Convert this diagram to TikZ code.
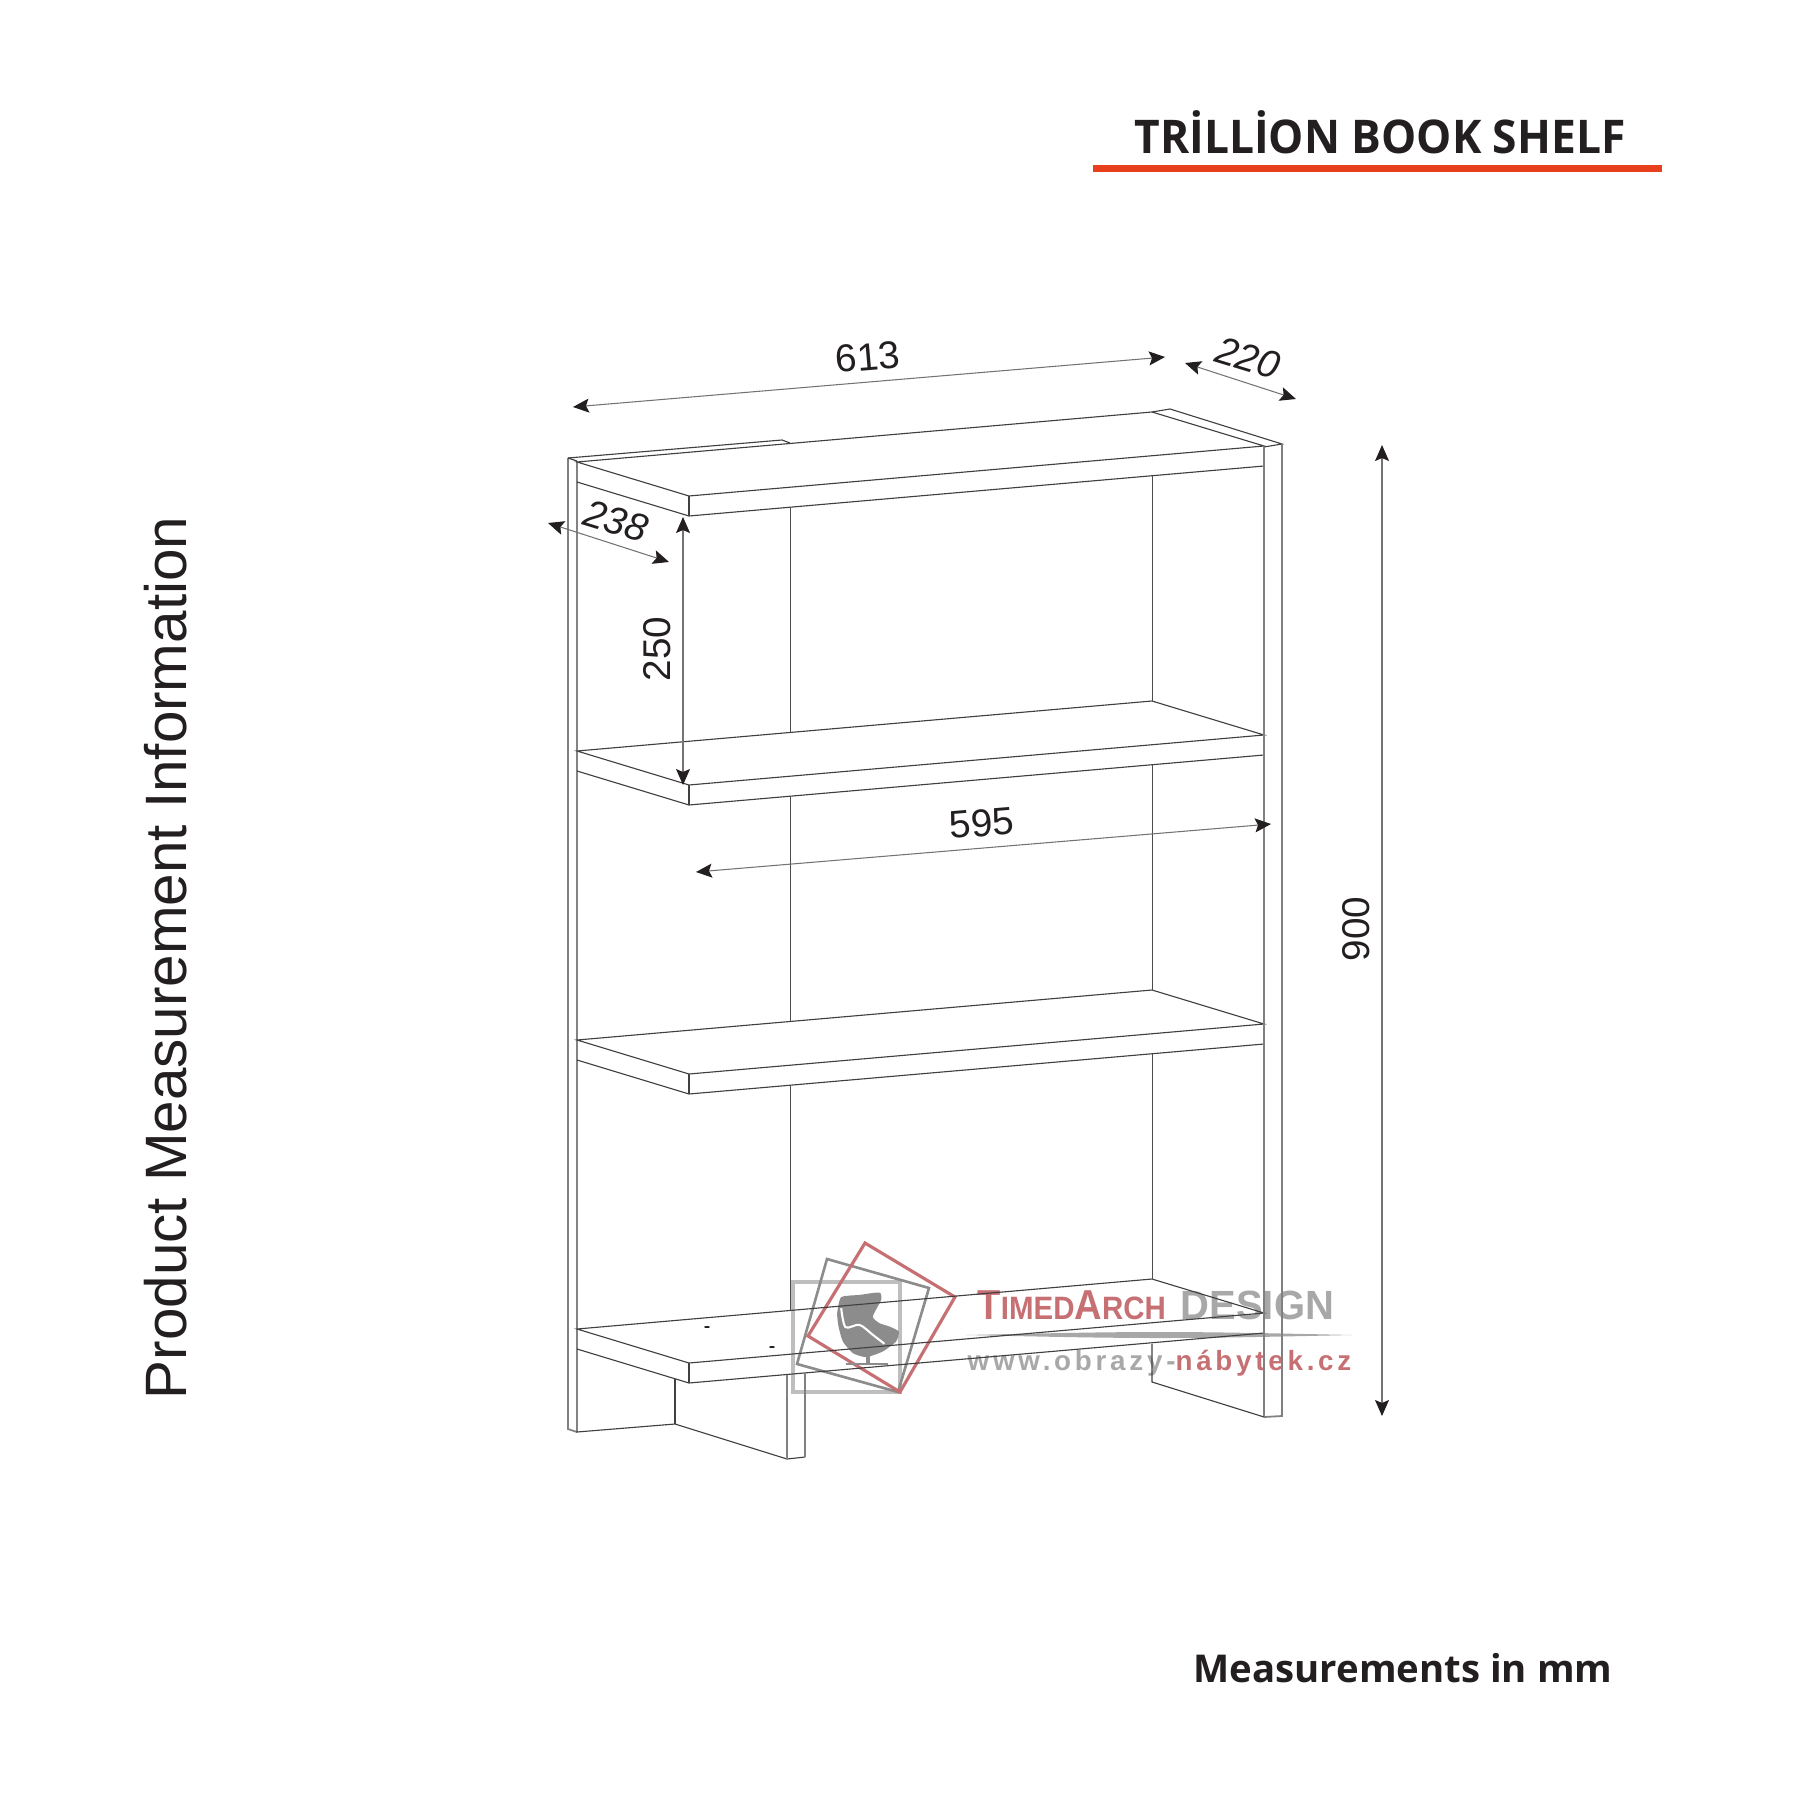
\documentclass[tikz,border=0pt]{standalone}
\usepackage{fontspec}
\setmainfont{Liberation Sans}
\newfontfamily\headfont{Open Sans}
\usetikzlibrary{arrows.meta}
\definecolor{inkdark}{RGB}{35,31,32}
\definecolor{rulered}{RGB}{232,64,28}
\definecolor{markred}{RGB}{198,112,116}
\definecolor{markgray}{RGB}{168,168,168}
\newcommand{\fs}[1]{\fontsize{#1}{#1}\selectfont}
\tikzset{%
    edge line/.style={draw=black!75,line width=0.32pt},
    back line/.style={draw=black!70,line width=0.28pt},
    post line/.style={draw=black!50,line width=0.5pt},
    dim line/.style={draw=black!55,line width=0.3pt,
        {Stealth[length=1.6mm,width=1.4mm,inset=0.3mm,inkdark]}-{Stealth[length=1.6mm,width=1.4mm,inset=0.3mm,inkdark]}},
    dim text/.style={inner sep=0,text=inkdark,font=\fs{11}},
    head text/.style={inner sep=0,text=inkdark,font=\headfont\bfseries\fs{13.2}}
}

\begin{document}
\begin{tikzpicture}[x=0.01cm,y=-0.01cm]
  \useasboundingbox (0,0) rectangle (1800,1800);

  % watermark
  \draw[markgray!75,line width=1pt] (793,1282) rectangle (900,1392);
  \draw[black!45,line width=0.75pt] (827,1259) -- (929,1288) -- (898,1392) -- (797,1364) -- cycle;
  \draw[markred,line width=0.9pt] (865,1243) -- (955,1297) -- (900,1392) -- (808,1336) -- cycle;
  \begin{scope}[shift={(540,1220)},x=0.00333cm,y=-0.00333cm]
    \fill[black!45] plot[smooth cycle,tension=0.35] coordinates {(905,232) (960,225) (1020,218) (1025,240) (1000,290)
      (1020,310) (1050,320) (1078,335) (1070,365) (1030,395) (980,412) (940,400) (910,365) (897,320) (893,280)};
    \draw[white,line width=0.6pt] plot[smooth,tension=0.5] coordinates {(905,265) (918,322) (960,315) (1000,345) (1035,372)};
    \fill[black!45] (980,405) rectangle (992,432);
    \fill[black!45] (920,431) rectangle (1045,437);
  \end{scope}
  \node[inner sep=0,anchor=west,text=markred,xscale=0.91] (markname) at (977,1305) {\bfseries\fs{11.9}T\fs{9.2}IMED\fs{11.9}A\fs{9.2}RCH};
  \node[inner sep=0,anchor=west,text=markgray,xscale=0.98] (markdesign) at (1180,1305) {\bfseries\fs{11.6}DESIGN};
  \fill[markgray] (966,1335) .. controls (1150,1331) and (1170,1331) .. (1352,1335)
     .. controls (1170,1339) and (1150,1339) .. (966,1335) -- cycle;
  \node[inner sep=0,anchor=west,font=\bfseries\fs{7.9}\addfontfeature{LetterSpace=13.5}] (markurl) at (967,1363)
     {\textcolor{markgray}{www.obrazy-}\textcolor{markred}{nábytek.cz}};

  % shelves
  \foreach \sy in {0,289,578,867}{
    \begin{scope}[shift={(0,\sy)}]
      \draw[edge line] (577,462) -- (1152,412) -- (1264,446) -- (689,496) -- cycle;
      \draw[edge line] (577,482) -- (689,516) -- (1264,466);
      \draw[edge line] (689,496) -- (689,516);
    \end{scope}
  }
  % back edges
  \foreach \sy in {0,289,578}{
    \draw[back line] (790,507+\sy) -- (790,732+\sy);
    \draw[back line] (1152,476+\sy) -- (1152,701+\sy);
  }

  % side panels
  \draw[post line] (568,458) -- (568,1429) -- (577,1432);
  \draw[edge line] (577,461) -- (577,1432) -- (675,1424) -- (787,1459) -- (805,1457);
  \draw[post line] (805,1457) -- (805,1373);
  \draw[post line] (787,1459) -- (787,1375);
  \draw[edge line] (675,1379) -- (675,1424);
  \draw[edge line] (568,458) -- (782,440) -- (790,443);
  \draw[edge line] (568,458) -- (577,461);
  \draw[edge line] (1152,412) -- (1170,409) -- (1282,444) -- (1264,447);
  \draw[post line] (1264,447) -- (1264,1417);
  \draw[post line] (1282,444) -- (1282,1416) -- (1264,1417);
  \draw[edge line] (1152,1344) -- (1152,1382) -- (1264,1417);
  % holes
  \fill[inkdark] (707,1327) ellipse (3 and 1);
  \fill[inkdark] (772,1347) ellipse (3 and 1);

  % measures
  \coordinate (w1) at (573,407);
  \coordinate (w2) at (1165,357);
  \coordinate (d1) at (1185,363);
  \coordinate (d2) at (1296,399);
  \coordinate (s1) at (548,523);
  \coordinate (s2) at (669,562);
  \coordinate (h1) at (683,517);
  \coordinate (h2) at (683,785);
  \coordinate (i1) at (696,872);
  \coordinate (i2) at (1271,824);
  \coordinate (t1) at (1382,445);
  \coordinate (t2) at (1382,1416);
  \draw[dim line] (w1) -- (w2);
  \draw[dim line] (d1) -- (d2);
  \draw[dim line] (s1) -- (s2);
  \draw[dim line] (h1) -- (h2);
  \draw[dim line] (i1) -- (i2);
  \draw[dim line] (t1) -- (t2);
  \node[dim text,rotate=4.8] (width) at (868,357) {613};
  \node[dim text,rotate=-17,font=\itshape\fs{11}] (depthtop) at (1248,358) {220};
  \node[dim text,rotate=-17,font=\itshape\fs{11}] (depthside) at (616,521) {238};
  \node[dim text,rotate=90] (gap) at (657,649) {250};
  \node[dim text,rotate=4.8] (inner) at (982,823) {595};
  \node[dim text,rotate=90] (height) at (1356,929) {900};

  % headings
  \node[head text,xscale=0.955] (title) at (1380,132) {TRİLLİON BOOK SHELF};
  \fill[rulered] (1093,165) rectangle (1662,172);
  \node[head text,font=\headfont\bfseries\fs{10.9}] (units) at (1403,1668) {Measurements in mm};
  \node[inner sep=0,rotate=90,text=inkdark,font=\fs{16.6}] (side) at (166,958) {Product Measurement Information};
\end{tikzpicture}
\end{document}
